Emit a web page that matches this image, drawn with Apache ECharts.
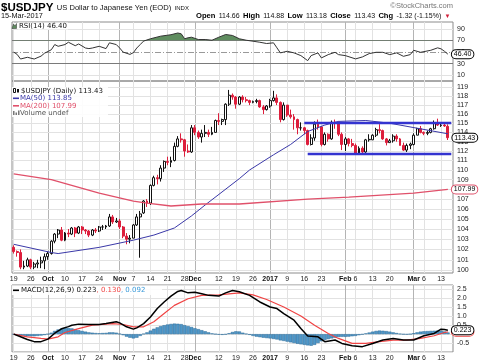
<!DOCTYPE html>
<html><head><meta charset="utf-8">
<script src="https://cdn.jsdelivr.net/npm/echarts@6/dist/echarts.min.js"></script>
<style>html,body{margin:0;padding:0;background:#fff}#c{width:480px;height:363px}</style>
</head><body><div id="c"></div>
<script>
// ---------------- DATA ----------------
const dates = [
'2016-09-19','2016-09-20','2016-09-21','2016-09-22','2016-09-23',
'2016-09-26','2016-09-27','2016-09-28','2016-09-29','2016-09-30',
'2016-10-03','2016-10-04','2016-10-05','2016-10-06','2016-10-07',
'2016-10-10','2016-10-11','2016-10-12','2016-10-13','2016-10-14',
'2016-10-17','2016-10-18','2016-10-19','2016-10-20','2016-10-21',
'2016-10-24','2016-10-25','2016-10-26','2016-10-27','2016-10-28',
'2016-10-31',
'2016-11-01','2016-11-02','2016-11-03','2016-11-04',
'2016-11-07','2016-11-08','2016-11-09','2016-11-10','2016-11-11',
'2016-11-14','2016-11-15','2016-11-16','2016-11-17','2016-11-18',
'2016-11-21','2016-11-22','2016-11-23','2016-11-24','2016-11-25',
'2016-11-28','2016-11-29','2016-11-30',
'2016-12-01','2016-12-02',
'2016-12-05','2016-12-06','2016-12-07','2016-12-08','2016-12-09',
'2016-12-12','2016-12-13','2016-12-14','2016-12-15','2016-12-16',
'2016-12-19','2016-12-20','2016-12-21','2016-12-22','2016-12-23',
'2016-12-26','2016-12-27','2016-12-28','2016-12-29','2016-12-30',
'2017-01-02','2017-01-03','2017-01-04','2017-01-05','2017-01-06',
'2017-01-09','2017-01-10','2017-01-11','2017-01-12','2017-01-13',
'2017-01-16','2017-01-17','2017-01-18','2017-01-19','2017-01-20',
'2017-01-23','2017-01-24','2017-01-25','2017-01-26','2017-01-27',
'2017-01-30','2017-01-31',
'2017-02-01','2017-02-02','2017-02-03',
'2017-02-06','2017-02-07','2017-02-08','2017-02-09','2017-02-10',
'2017-02-13','2017-02-14','2017-02-15','2017-02-16','2017-02-17',
'2017-02-20','2017-02-21','2017-02-22','2017-02-23','2017-02-24',
'2017-02-27','2017-02-28',
'2017-03-01','2017-03-02','2017-03-03',
'2017-03-06','2017-03-07','2017-03-08','2017-03-09','2017-03-10',
'2017-03-13','2017-03-14','2017-03-15'
];
const open = [
102.2,101.8,101.7,100.3,100.4, 101.0,100.3,100.6,100.7,100.9,
101.3,101.6,102.8,103.5,103.9, 102.9,103.6,103.5,104.1,103.6,
104.2,103.9,103.8,103.4,103.9, 103.8,104.2,104.2,104.3,105.2,
104.7,
104.8,104.2,103.3,103.0, 103.1,104.4,105.2,105.6,106.8,
106.6,108.4,109.2,109.1,110.2, 110.9,110.8,111.0,112.5,113.3,
113.2,112.0,111.9,
114.5,114.0, 113.5,113.9,114.0,113.8,114.0,
115.3,115.2,115.4,117.1,118.1, 117.9,117.1,117.9,117.6,117.5,
117.3,117.4,117.5,116.8,116.5,
116.9,117.5,117.8,117.3,115.4, 117.0,115.9,115.7,115.4,114.5,
114.5,114.2,112.7,113.4,114.9, 114.6,112.7,113.8,113.3,115.1,
115.0,113.8,
112.7,113.3,112.8, 112.6,111.7,112.3,111.9,113.2,
113.2,113.7,114.3,114.2,113.3, 112.9,113.1,113.6,113.3,112.6,
112.1,112.6,
112.7,113.7,114.4, 114.0,113.9,114.0,114.4,115.0,
114.75,114.8,114.66
];
const high = [
102.4,101.9,102.0,100.9,101.2, 101.1,100.8,101.0,101.3,101.6,
101.8,102.9,103.6,104.0,104.2, 103.7,104.0,104.2,104.2,104.3,
104.3,104.0,103.9,104.0,104.1, 104.3,104.4,104.4,105.5,105.4,
105.1,
105.0,104.3,103.6,103.4, 104.5,105.5,105.8,106.9,107.0,
108.5,109.4,109.5,110.5,111.0, 111.4,111.4,112.9,113.6,113.9,
113.3,112.7,114.8,
114.8,114.2, 114.3,114.8,114.3,114.6,115.4,
116.1,115.5,117.2,118.7,118.3, 118.0,118.0,118.1,117.9,117.6,
117.5,117.7,117.6,117.0,117.0,
117.7,118.6,118.2,117.4,117.3, 117.0,116.5,116.0,115.5,115.1,
114.6,114.3,113.8,115.2,115.4, 114.7,114.0,113.9,115.3,115.4,
115.2,114.0,
113.5,113.4,113.3, 112.8,112.5,112.5,113.3,113.8,
113.8,114.5,114.9,114.3,113.4, 113.3,113.8,113.8,113.4,112.9,
112.8,112.9,
113.9,114.5,114.7, 114.1,114.2,114.5,115.3,115.5,
115.0,115.0,114.88
];
const low = [
101.6,101.3,100.1,100.1,100.3, 100.1,100.1,100.2,100.2,100.1,
101.0,101.5,102.6,103.1,102.8, 102.8,103.2,103.4,103.2,103.5,
103.5,103.5,103.2,103.3,103.6, 103.7,103.9,104.0,104.2,104.5,
104.6,
104.0,103.1,102.5,102.6, 103.1,104.3,101.2,105.5,106.2,
106.4,108.3,108.5,108.8,109.8, 110.5,110.3,110.9,112.4,112.9,
111.4,111.8,111.8,
113.7,113.3, 112.9,113.5,113.5,113.7,114.0,
114.8,114.8,114.8,116.9,117.6, 116.6,117.0,117.3,117.3,117.0,
117.2,117.2,116.7,116.0,116.4,
116.7,117.4,117.0,115.1,115.3, 115.7,115.5,114.3,113.8,114.2,
113.8,112.6,112.6,113.1,114.3, 112.5,112.6,113.0,113.2,114.4,
113.6,112.1,
112.0,112.5,112.4, 111.6,111.6,111.6,111.8,113.0,
113.2,113.5,113.9,113.2,112.6, 112.9,112.9,113.0,112.6,112.0,
111.9,112.2,
112.6,113.7,113.9, 113.7,113.7,113.9,114.3,114.7,
114.6,114.6,113.18
];
const close = [
101.8,101.7,100.3,100.4,101.0, 100.3,100.6,100.7,100.9,101.3,
101.6,102.8,103.5,103.9,102.9, 103.6,103.5,104.1,103.6,104.2,
103.9,103.8,103.4,103.9,103.8, 104.2,104.2,104.3,105.2,104.7,
104.8,
104.2,103.3,103.0,103.1, 104.4,105.2,105.5,106.8,106.6,
108.4,109.2,109.1,110.2,110.9, 110.8,111.0,112.5,113.3,113.2,
112.0,111.9,114.5,
114.0,113.5, 113.9,114.0,113.8,114.0,115.3,
115.2,115.4,117.1,118.1,117.9, 117.1,117.9,117.6,117.5,117.3,
117.4,117.5,116.8,116.5,116.9,
117.5,117.8,117.3,115.4,117.0, 115.9,115.7,115.4,114.5,114.5,
114.2,112.7,113.4,114.9,114.6, 112.7,113.8,113.3,115.1,115.0,
113.8,112.7,
113.3,112.8,112.6, 111.7,112.3,111.9,113.2,113.25,
113.7,114.3,114.2,113.3,112.9, 113.1,113.6,113.3,112.6,112.1,
112.6,112.75,
113.7,114.4,114.0, 113.9,114.0,114.4,115.0,114.8,
114.8,114.7,113.43
];
const ma50 = [
['2016-09-19',102.5],['2016-10-04',101.7],['2016-10-06',101.6],['2016-10-24',102.2],
['2016-11-07',102.9],['2016-11-15',103.4],['2016-11-23',104.1],['2016-11-30',105.3],
['2016-12-06',106.4],['2016-12-20',109.1],['2016-12-23',110.0],['2017-01-03',111.6],
['2017-01-10',112.7],['2017-01-17',114.1],['2017-01-24',114.8],['2017-01-30',115.2],
['2017-02-09',115.3],['2017-02-20',115.0],['2017-03-15',113.85]
];
const ma200 = [
['2016-09-19',109.6],['2016-10-04',109.0],['2016-10-24',107.6],['2016-11-07',106.8],
['2016-11-11',106.6],['2016-11-22',106.3],['2016-12-05',106.5],['2016-12-20',106.5],
['2017-01-17',107.0],['2017-02-02',107.2],['2017-03-01',107.6],['2017-03-15',107.99]
];
const rsi = [
['2016-09-19',50],['2016-09-20',46],['2016-09-21',38],['2016-09-23',41],['2016-09-27',38],
['2016-09-29',43],['2016-09-30',48],['2016-10-04',54],['2016-10-05',63],['2016-10-06',60],
['2016-10-10',63],['2016-10-11',67],['2016-10-13',61],['2016-10-14',64],['2016-10-18',57],
['2016-10-19',56],['2016-10-20',57],['2016-10-24',60],['2016-10-26',56],['2016-10-27',66],
['2016-10-31',63],['2016-11-01',57],['2016-11-02',50],['2016-11-04',46],['2016-11-07',49],
['2016-11-08',57],['2016-11-09',63],['2016-11-10',69],['2016-11-14',73],['2016-11-17',77.5],
['2016-11-22',80],['2016-11-24',83],['2016-11-25',81.6],['2016-11-28',73],['2016-11-29',74.7],
['2016-11-30',75.7],['2016-12-02',71.7],['2016-12-06',71.7],['2016-12-08',70.5],['2016-12-12',75.7],
['2016-12-14',80.4],['2016-12-16',78.7],['2016-12-20',73],['2016-12-22',70.5],['2016-12-26',68.8],
['2016-12-28',67],['2016-12-30',64.8],['2017-01-03',66],['2017-01-04',57.3],['2017-01-05',48.6],
['2017-01-09',51.4],['2017-01-11',48.6],['2017-01-13',43.9],['2017-01-17',35.2],['2017-01-18',43.9],
['2017-01-20',48.6],['2017-01-23',39.9],['2017-01-25',45.6],['2017-01-27',49.6],['2017-01-30',45.6],
['2017-02-01',43.9],['2017-02-06',38.2],['2017-02-08',41.6],['2017-02-10',47.4],['2017-02-14',49.6],
['2017-02-16',49.6],['2017-02-20',45.6],['2017-02-22',48.6],['2017-02-24',42.7],['2017-02-28',45.6],
['2017-03-01',53.1],['2017-03-03',49.6],['2017-03-08',53.1],['2017-03-10',57.3],['2017-03-13',55.6],
['2017-03-14',51.4],['2017-03-15',46.4]
];
const macd = [
['2016-09-19',0.0],['2016-09-21',-0.15],['2016-09-23',-0.30],['2016-09-27',-0.42],['2016-09-29',-0.42],
['2016-10-03',-0.28],['2016-10-05',0.05],['2016-10-07',0.30],['2016-10-11',0.42],['2016-10-12',0.50],
['2016-10-14',0.56],['2016-10-19',0.54],['2016-10-24',0.54],['2016-10-26',0.59],['2016-10-31',0.69],
['2016-11-01',0.63],['2016-11-03',0.41],['2016-11-07',0.28],['2016-11-08',0.35],['2016-11-10',0.59],
['2016-11-14',0.96],['2016-11-16',1.43],['2016-11-18',1.80],['2016-11-22',2.13],['2016-11-24',2.39],
['2016-11-25',2.44],['2016-11-29',2.31],['2016-12-01',2.35],['2016-12-05',2.26],['2016-12-07',2.17],
['2016-12-12',2.13],['2016-12-14',2.31],['2016-12-16',2.44],['2016-12-20',2.37],['2016-12-23',2.17],
['2016-12-28',1.80],['2017-01-02',1.52],['2017-01-04',1.43],['2017-01-06',1.15],['2017-01-11',0.78],
['2017-01-13',0.31],['2017-01-17',-0.11],['2017-01-20',-0.15],['2017-01-24',-0.42],['2017-01-27',-0.33],
['2017-01-31',-0.52],['2017-02-03',-0.65],['2017-02-08',-0.70],['2017-02-13',-0.52],['2017-02-16',-0.33],
['2017-02-21',-0.24],['2017-02-24',-0.33],['2017-03-01',-0.33],['2017-03-06',-0.09],['2017-03-09',0.04],
['2017-03-13',0.28],['2017-03-14',0.26],['2017-03-15',0.223]
];
const signal = [
['2016-09-19',0.0],['2016-09-23',-0.15],['2016-09-29',-0.24],['2016-10-03',-0.28],['2016-10-06',-0.15],
['2016-10-10',0.09],['2016-10-14',0.31],['2016-10-20',0.50],['2016-10-28',0.59],['2016-11-02',0.54],
['2016-11-07',0.41],['2016-11-10',0.41],['2016-11-15',0.69],['2016-11-18',1.15],['2016-11-23',1.61],
['2016-11-29',1.98],['2016-12-05',2.17],['2016-12-12',2.20],['2016-12-20',2.31],['2016-12-26',2.20],
['2016-12-30',1.94],['2017-01-06',1.52],['2017-01-13',1.02],['2017-01-19',0.50],['2017-01-25',0.04],
['2017-01-30',-0.24],['2017-02-03',-0.52],['2017-02-09',-0.52],['2017-02-15',-0.42],['2017-02-21',-0.33],
['2017-02-27',-0.33],['2017-03-03',-0.24],['2017-03-09',-0.09],['2017-03-14',0.09],['2017-03-15',0.130]
];
const histogram = [
-0.02,-0.05,-0.08,-0.10,-0.12,-0.12,-0.12,-0.10,-0.08,-0.05,
0.00,0.08,0.18,0.26,0.32,0.35,0.34,0.32,0.28,0.22,
0.18,0.14,0.10,0.08,0.06,0.05,0.06,0.07,0.10,0.10,
0.08,0.02,-0.06,-0.14,-0.20,-0.24,-0.20,-0.10,0.02,0.10,
0.20,0.30,0.38,0.45,0.50,0.54,0.57,0.59,0.58,0.56,
0.50,0.45,0.40,0.33,0.28,0.22,0.16,0.10,0.04,0.00,
-0.03,-0.04,-0.02,0.05,0.12,0.16,0.15,0.08,0.02,-0.04,
-0.10,-0.14,-0.17,-0.20,-0.22,-0.24,-0.27,-0.30,-0.35,-0.38,
-0.42,-0.46,-0.50,-0.54,-0.57,-0.60,-0.63,-0.65,-0.60,-0.50,
-0.40,-0.33,-0.28,-0.24,-0.20,-0.16,-0.15,-0.15,-0.14,-0.12,
-0.10,-0.06,-0.02,0.04,0.09,0.14,0.18,0.20,0.19,0.17,
0.14,0.10,0.06,0.02,-0.01,-0.02,0.00,0.05,0.10,0.14,
0.16,0.17,0.18,0.19,0.20,0.19,0.15,0.092
];
const priceTicks = [100,101,102,103,104,105,106,107,108,109,110,111,112,113,114,115,116,117,118,119];
const rsiTicks = [10,30,50,70,90];
const tickLabels = [
['2016-09-19','19'],['2016-09-26','26'],['2016-10-03','Oct'],['2016-10-10','10'],['2016-10-17','17'],
['2016-10-24','24'],['2016-11-01','Nov'],['2016-11-07','7'],['2016-11-14','14'],['2016-11-21','21'],
['2016-11-28','28'],['2016-12-01','Dec'],['2016-12-12','12'],['2016-12-19','19'],['2016-12-26','26'],
['2017-01-02','2017'],['2017-01-09','9'],['2017-01-16','16'],['2017-01-23','23'],['2017-02-01','Feb'],
['2017-02-06','6'],['2017-02-13','13'],['2017-02-20','20'],['2017-03-01','Mar'],['2017-03-06','6'],
['2017-03-13','13']
];
const monthStarts = ['2016-10-03','2016-11-01','2016-12-01','2017-01-02','2017-02-01','2017-03-01'];
const channelLines = [
  {from:'2017-01-16', price:115.05},
  {from:'2017-01-17', price:111.76}
];
const headerQuote = {date:'15-Mar-2017', open:'114.66', high:'114.88', low:'113.18', close:'113.43', chg:'-1.32 (-1.15%)'};

// ---------------- CHART ----------------
const FONT = '"Liberation Sans", Arial, sans-serif';
const LFONT = '"DejaVu Sans", Verdana, sans-serif';
const last = dates.length - 1;
const axisDates = dates.concat(['']);
const labelMap = new Map(tickLabels);
const monthSet = new Set(monthStarts);
const L = 12, R = 27;

function xAxis(gridIndex, kind, withLabels) {
  const ax = {
    type: 'category', gridIndex, data: axisDates, boundaryGap: true,
    axisLine: {show: false}, axisTick: {show: false},
    axisLabel: {show: false},
    splitLine: {show: kind !== 'none', alignWithLabel: true,
      interval: kind === 'month' ? (i, v) => monthSet.has(v) : (i, v) => labelMap.has(v) && !monthSet.has(v),
      lineStyle: {color: kind === 'month' ? '#b4b4b4' : '#e2e2e2', width: 1}}
  };
  if (withLabels) {
    ax.axisLabel = {
      show: true, interval: (i, v) => labelMap.has(v), margin: 3,
      formatter: v => monthSet.has(v) ? '{b|' + labelMap.get(v) + '}' : labelMap.get(v),
      fontSize: 7, fontFamily: FONT, color: '#222',
      rich: {b: {fontWeight: 'bold', fontSize: 7, fontFamily: FONT, color: '#111'}}
    };
  }
  return ax;
}
const tag = (border) => ({
  show: true, fontSize: 7, fontFamily: FONT, color: '#000', backgroundColor: '#fff',
  borderColor: border, borderWidth: 1, borderRadius: 4, padding: [1, 2, 0, 2]
});
const legendBg = 'rgba(255,255,255,0.9)';

const candles = dates.map((d, i) => [open[i], close[i], low[i], high[i]]);

const option = {
  animation: false,
  backgroundColor: '#fff',
  grid: [
    {left: L, right: R, top: 22, height: 59, show: true, borderColor: '#8c8c8c', borderWidth: 1},
    {left: L, right: R, top: 22, height: 18.51, show: false},
    {left: L, right: R, top: 81, height: 192, show: true, borderColor: '#8c8c8c', borderWidth: 1},
    {left: L, right: R, top: 285, height: 67, show: true, borderColor: '#8c8c8c', borderWidth: 1}
  ],
  xAxis: [
    xAxis(0, 'week', false),
    xAxis(1, 'none', false),
    xAxis(2, 'week', true),
    xAxis(3, 'week', true),
    xAxis(0, 'month', false),
    xAxis(2, 'month', false),
    xAxis(3, 'month', false)
  ],
  yAxis: [
    {type: 'value', gridIndex: 0, min: 0, max: 102, interval: 10, position: 'right',
     axisLine: {show: false}, axisTick: {show: false}, splitLine: {show: false},
     axisLabel: {formatter: v => rsiTicks.includes(v) ? String(v) : '', fontSize: 7, fontFamily: FONT, color: '#222', margin: 4}},
    {type: 'value', gridIndex: 1, min: 70, max: 102, show: false},
    {type: 'log', logBase: 10, gridIndex: 2, min: 99.74, max: 119.71, position: 'right',
     axisLine: {show: false}, axisTick: {show: false}, splitLine: {show: false}, axisLabel: {show: false}},
    {type: 'value', gridIndex: 3, min: -1, max: 2.75, interval: 0.5, position: 'right',
     axisLine: {show: false}, axisTick: {show: false},
     splitLine: {show: true, lineStyle: {color: '#e2e2e2'}},
     axisLabel: {formatter: v => v.toFixed(1), showMinLabel: false, showMaxLabel: false,
       fontSize: 7, fontFamily: FONT, color: '#222', margin: 4}}
  ],
  series: [
    // RSI green fill above 70
    {type: 'line', xAxisIndex: 1, yAxisIndex: 1, data: rsi, showSymbol: false, clip: true, z: 2,
     lineStyle: {width: 0}, areaStyle: {color: '#5f8d5f', opacity: 1, origin: 'start'}, silent: true},
    // RSI line
    {type: 'line', xAxisIndex: 0, yAxisIndex: 0, data: rsi, showSymbol: false, z: 4,
     lineStyle: {color: '#333', width: 1}, silent: true,
     endLabel: Object.assign(tag('#000'), {distance: 4, formatter: p => p.value[1].toFixed(2)}),
     markLine: {silent: true, symbol: 'none', label: {show: false}, z: 1,
       data: [
         {yAxis: 90, lineStyle: {color: '#e2e2e2', type: 'solid', width: 1}},
         {yAxis: 10, lineStyle: {color: '#e2e2e2', type: 'solid', width: 1}},
         {yAxis: 70, lineStyle: {color: '#7a7a7a', type: 'solid', width: 1}},
         {yAxis: 30, lineStyle: {color: '#7a7a7a', type: 'solid', width: 1}},
         {yAxis: 50, lineStyle: {color: '#999', type: [6, 2, 1, 2], width: 1}}
       ]}},
    // Price grid lines + labels
    {type: 'line', xAxisIndex: 2, yAxisIndex: 2, data: [], z: 1, silent: true,
     markLine: {silent: true, symbol: 'none', z: 1,
       lineStyle: {color: '#e2e2e2', type: 'solid', width: 1},
       label: {show: true, position: 'end', distance: 4, formatter: '{c}', fontSize: 7, fontFamily: FONT, color: '#222'},
       data: priceTicks.map(v => ({yAxis: v}))}},
    // Candles
    {type: 'candlestick', xAxisIndex: 2, yAxisIndex: 2, data: candles, z: 3, barWidth: 2.4,
     itemStyle: {color: '#ffffff', color0: '#dd1e3c', borderColor: '#111', borderColor0: '#dd1e3c', borderColorDoji: '#111', borderWidth: 1},
     markPoint: {symbol: 'rect', symbolSize: 1, itemStyle: {color: 'rgba(0,0,0,0)'}, z: 10,
       label: Object.assign(tag('#000'), {position: 'right', distance: 4, formatter: p => p.value.toFixed(2)}),
       data: [{coord: [dates[last], close[last]], value: close[last]}]}},
    // MA200
    {type: 'line', xAxisIndex: 2, yAxisIndex: 2, data: ma200, showSymbol: false, z: 6, silent: true,
     lineStyle: {color: '#e0506a', width: 1.3},
     endLabel: Object.assign(tag('#e0506a'), {distance: 4, formatter: p => p.value[1].toFixed(2)})},
    // MA50
    {type: 'line', xAxisIndex: 2, yAxisIndex: 2, data: ma50, showSymbol: false, z: 4, silent: true,
     lineStyle: {color: '#3a38a8', width: 1}},
    // Channel lines
    {type: 'line', xAxisIndex: 2, yAxisIndex: 2, data: [], z: 6, silent: true,
     markLine: {silent: true, symbol: 'none', label: {show: false}, z: 6,
       lineStyle: {color: '#3434d0', width: 2.4, type: 'solid'},
       data: channelLines.map(c => [{coord: [c.from, c.price]}, {coord: [dates.length, c.price]}])}},
    // MACD histogram
    {type: 'bar', xAxisIndex: 3, yAxisIndex: 3, data: histogram, barWidth: '100%', z: 2, silent: true,
     itemStyle: {color: '#4f97c8', borderColor: '#2a6b98', borderWidth: 0.5}},
    // Signal
    {type: 'line', xAxisIndex: 3, yAxisIndex: 3, data: signal, showSymbol: false, z: 4, silent: true,
     lineStyle: {color: '#f04444', width: 1.2},
     endLabel: Object.assign(tag('#f04444'), {distance: 4, formatter: p => p.value[1].toFixed(3)})},
    // MACD
    {type: 'line', xAxisIndex: 3, yAxisIndex: 3, data: macd, showSymbol: false, z: 5, silent: true,
     lineStyle: {color: '#000', width: 1.5},
     endLabel: Object.assign(tag('#000'), {distance: 4, formatter: p => p.value[1].toFixed(3)})}
  ],
  graphic: [
    {type: 'text', x: 1, y: 8, z: 100, style: {
      text: '{t|$USDJPY} {s|US Dollar to Japanese Yen (EOD)} {i|INDX}', verticalAlign: 'middle',
      rich: {
        t: {fontSize: 11.5, fontWeight: 'bold', fontFamily: FONT, fill: '#000'},
        s: {fontSize: 7.6, fontFamily: FONT, fill: '#111'},
        i: {fontSize: 6, fontFamily: FONT, fill: '#111'}
      }}},
    {type: 'text', x: 453, y: 5.5, z: 100, style: {text: '\u00a9StockCharts.com', align: 'right', verticalAlign: 'middle',
      fontSize: 7.5, fontFamily: FONT, fill: '#777'}},
    {type: 'text', x: 1, y: 16, z: 100, style: {text: headerQuote.date, verticalAlign: 'middle', fontSize: 7.3, fontFamily: FONT, fill: '#111'}},
    {type: 'text', x: 196, y: 16, z: 100, style: {
      text: '{k|Open} {v|' + headerQuote.open + '} {k|High} {v|' + headerQuote.high + '} {k|Low} {v|' + headerQuote.low +
            '} {k|Close} {v|' + headerQuote.close + '} {k|Chg} {v|' + headerQuote.chg + '} {r|\u25BC}',
      verticalAlign: 'middle',
      rich: {
        k: {fontSize: 7.6, fontWeight: 'bold', fontFamily: FONT, fill: '#000'},
        v: {fontSize: 7, fontFamily: FONT, fill: '#111'},
        r: {fontSize: 6, fontFamily: FONT, fill: '#d0203a'}
      }}},
    // RSI legend
    {type: 'polygon', z: 100, shape: {points: [[12, 28.5], [13.5, 24], [15, 26], [16.5, 23.5], [16.5, 28.5]]}, style: {fill: '#5f8d5f', stroke: '#333', lineWidth: 0.5}},
    {type: 'text', x: 18, y: 26, z: 100, style: {text: 'RSI(14) ' + rsi[rsi.length - 1][1].toFixed(2), verticalAlign: 'middle',
      fontSize: 7, fontFamily: LFONT, fill: '#111', backgroundColor: legendBg, padding: [0, 1]}},
    // Price legend
    {type: 'rect', z: 100, shape: {x: 12, y: 87, width: 96, height: 30}, style: {fill: legendBg}},
    {type: 'rect', z: 101, shape: {x: 13.5, y: 88.5, width: 2, height: 4}, style: {fill: '#fff', stroke: '#111', lineWidth: 1}},
    {type: 'rect', z: 101, shape: {x: 17, y: 89, width: 2, height: 3.5}, style: {fill: '#111'}},
    {type: 'text', x: 21, y: 91, z: 101, style: {text: '$USDJPY (Daily) ' + close[last].toFixed(2), verticalAlign: 'middle',
      fontSize: 7, fontFamily: LFONT, fill: '#111'}},
    {type: 'rect', z: 101, shape: {x: 13, y: 97.5, width: 6, height: 1.6}, style: {fill: '#3a38a8'}},
    {type: 'text', x: 20, y: 98.5, z: 101, style: {text: 'MA(50) ' + ma50[ma50.length - 1][1].toFixed(2), verticalAlign: 'middle',
      fontSize: 7, fontFamily: LFONT, fill: '#3a38a8'}},
    {type: 'rect', z: 101, shape: {x: 13, y: 105, width: 6, height: 1.6}, style: {fill: '#e0506a'}},
    {type: 'text', x: 20, y: 106, z: 101, style: {text: 'MA(200) ' + ma200[ma200.length - 1][1].toFixed(2), verticalAlign: 'middle',
      fontSize: 7, fontFamily: LFONT, fill: '#e0506a'}},
    {type: 'rect', z: 101, shape: {x: 13, y: 111, width: 1.5, height: 4}, style: {fill: '#777'}},
    {type: 'rect', z: 101, shape: {x: 15.5, y: 112.5, width: 1.5, height: 2.5}, style: {fill: '#777'}},
    {type: 'rect', z: 101, shape: {x: 18, y: 110.5, width: 1.5, height: 4.5}, style: {fill: '#777'}},
    {type: 'text', x: 20, y: 113.5, z: 101, style: {text: 'Volume undef', verticalAlign: 'middle',
      fontSize: 7, fontFamily: LFONT, fill: '#555'}},
    // MACD legend
    {type: 'rect', z: 100, shape: {x: 12, y: 286, width: 150, height: 9}, style: {fill: legendBg}},
    {type: 'rect', z: 101, shape: {x: 13, y: 289.5, width: 6, height: 1.6}, style: {fill: '#000'}},
    {type: 'text', x: 21, y: 290.5, z: 101, style: {
      text: '{a|MACD(12,26,9) ' + macd[macd.length - 1][1].toFixed(3) + '}{r|, ' + signal[signal.length - 1][1].toFixed(3) +
            '}{b|, ' + histogram[histogram.length - 1].toFixed(3) + '}',
      verticalAlign: 'middle',
      rich: {
        a: {fontSize: 7, fontFamily: LFONT, fill: '#111'},
        r: {fontSize: 7, fontFamily: LFONT, fill: '#f04444'},
        b: {fontSize: 7, fontFamily: LFONT, fill: '#3a9ad9'}
      }}}
  ]
};
const chart = echarts.init(document.getElementById('c'), null, {width: 480, height: 363});
chart.setOption(option);
</script>
</body></html>
